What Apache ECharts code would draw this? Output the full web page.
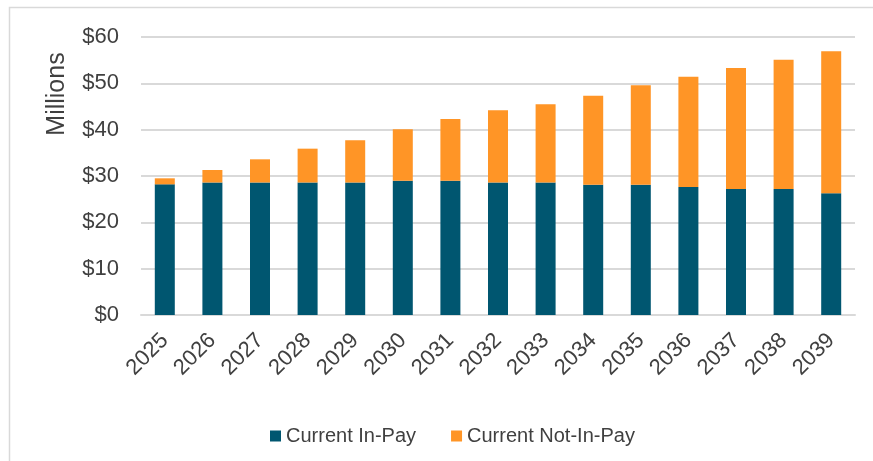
<!DOCTYPE html>
<html lang="en">
<head>
  <meta charset="UTF-8">
  <title>Current In-Pay vs Not-In-Pay</title>
  <style>
    html, body { margin: 0; padding: 0; background: #fff; }
  </style>
</head>
<body>
  <div id="main" style="width: 873px; height: 461px"></div>
  <script src="https://cdn.jsdelivr.net/npm/echarts@6/dist/echarts.min.js"></script>
  <script>
    // data, in $ millions
    const years = ['2025', '2026', '2027', '2028', '2029', '2030', '2031', '2032',
                   '2033', '2034', '2035', '2036', '2037', '2038', '2039'];
    const inPay = [28.2, 28.6, 28.6, 28.6, 28.6, 29.0, 29.0, 28.6, 28.6, 28.1, 28.1, 27.6, 27.2, 27.2, 26.3];
    const totals = [29.5, 31.3, 33.6, 35.9, 37.7, 40.1, 42.3, 44.2, 45.5, 47.3, 49.6, 51.4, 53.3, 55.1, 56.9];
    const notInPay = totals.map((t, i) => +(t - inPay[i]).toFixed(1));

    const textColor = '#404040';
    const font = 'Liberation Sans, Arial, sans-serif';

    let myChart = echarts.init(document.getElementById('main'));
    let option = {
      animation: false,
      textStyle: { fontFamily: font },
      graphic: [
        {
          // outer chart frame (only top and left show in the picture)
          type: 'rect',
          shape: { x: 9.5, y: 7.5, width: 900, height: 480 },
          style: { fill: 'none', stroke: '#d9d9d9', lineWidth: 1.5 },
          silent: true
        },
        {
          // axis title, sits near the top of the axis
          type: 'text',
          x: 57,
          y: 94,
          rotation: Math.PI / 2,
          style: {
            text: 'Millions',
            fill: textColor,
            fontSize: 25,
            fontFamily: font,
            textAlign: 'center',
            textVerticalAlign: 'middle'
          },
          silent: true
        }
      ],
      grid: { left: 141, right: 18, top: 37, bottom: 146 },
      legend: {
        top: 421,
        left: 265,
        itemWidth: 11,
        itemHeight: 11,
        itemGap: 35,
        icon: 'rect',
        textStyle: { color: textColor, fontSize: 20, fontFamily: font },
        data: ['Current In-Pay', 'Current Not-In-Pay']
      },
      xAxis: {
        type: 'category',
        data: years,
        axisLine: { lineStyle: { color: '#d9d9d9', width: 2 } },
        axisTick: { show: false },
        axisLabel: {
          rotate: 45,
          color: textColor,
          fontSize: 22,
          margin: 22,
          fontFamily: font
        }
      },
      yAxis: {
        type: 'value',
        min: 0,
        max: 60,
        interval: 10,
        axisLine: { show: false },
        axisTick: { show: false },
        axisLabel: {
          color: textColor,
          fontSize: 22,
          margin: 22,
          fontFamily: font,
          formatter: v => '$' + v
        },
        splitLine: { lineStyle: { color: '#d9d9d9', width: 2 } }
      },
      series: [
        {
          name: 'Current In-Pay',
          type: 'bar',
          stack: 'total',
          barWidth: 20,
          data: inPay,
          itemStyle: { color: '#005670' }
        },
        {
          name: 'Current Not-In-Pay',
          type: 'bar',
          stack: 'total',
          barWidth: 20,
          data: notInPay,
          itemStyle: { color: '#ff9526' }
        }
      ]
    };
    myChart.setOption(option);
  </script>
</body>
</html>
